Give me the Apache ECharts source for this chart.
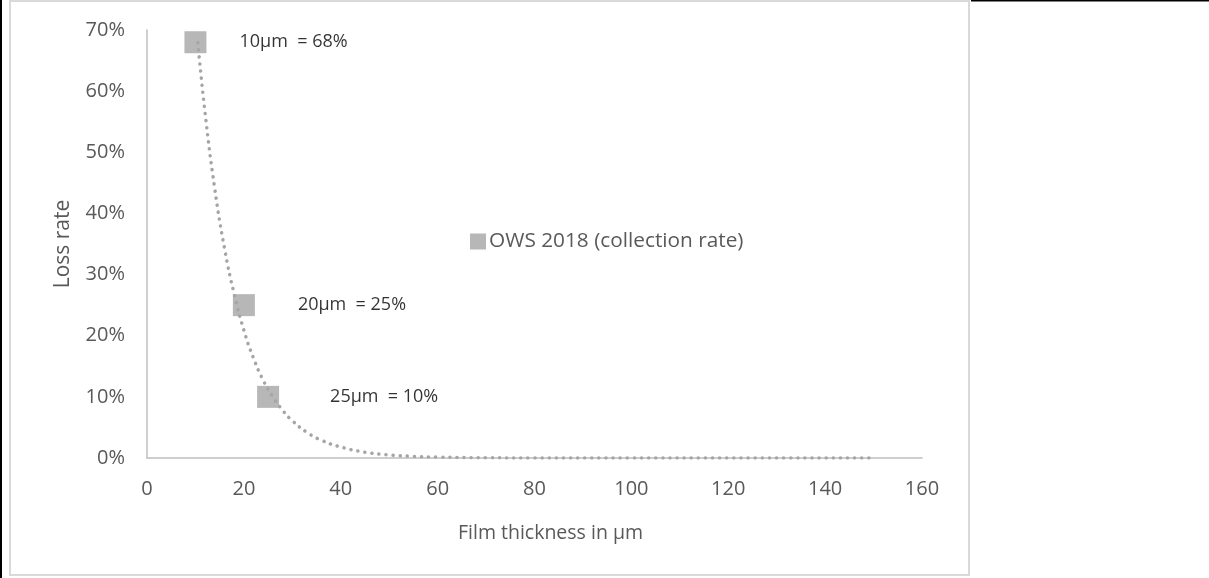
<!DOCTYPE html>
<html>
<head>
<meta charset="utf-8">
<script src="https://cdn.jsdelivr.net/npm/echarts@6/dist/echarts.min.js"></script>
<style>
html,body{margin:0;padding:0;background:#fff;}
#chart{width:1209px;height:578px;}
</style>
</head>
<body>
<div id="chart"></div>
<script>
// Measured points (film thickness in µm, loss rate)
const thickness = [10, 20, 25];
const lossRate = [0.68, 0.25, 0.10];
const pointLabels = ['10µm  = 68%', '20µm  = 25%', '25µm  = 10%'];
const seriesName = 'OWS 2018 (collection rate)';

// Trendline (visible part starts under the first marker)
const trendX = [10.5, 12, 14, 16, 18, 20, 22, 24, 26, 28, 30, 33, 36, 40, 45, 50, 55, 60, 70, 80, 100, 120, 150];
const trendY = [0.679, 0.564, 0.440, 0.343, 0.268, 0.209, 0.163, 0.127, 0.100, 0.078, 0.061, 0.042, 0.029, 0.018, 0.0095, 0.005, 0.0027, 0.0015, 0.0004, 0.0001, 0, 0, 0];

const xTicks = {min: 0, max: 160, interval: 20};
const yTicks = {min: 0, max: 0.7, interval: 0.1};

const labelDistances = [33, 43, 51];

const chart = echarts.init(document.getElementById('chart'), null, {renderer: 'canvas'});
const FONT = '"Open Sans", "Noto Sans", sans-serif';
const GREY = '#a5a5a5';
const TXT = '#595959';

const scatterData = thickness.map((x, i) => ({
  value: [x, lossRate[i]],
  label: {
    show: true,
    position: 'right',
    distance: labelDistances[i],
    formatter: pointLabels[i],
    color: '#000',
    fontFamily: FONT,
    fontSize: 18
  }
}));

const trendData = trendX.map((x, i) => [x, trendY[i]]);

chart.setOption({
  animation: false,
  backgroundColor: '#fff',
  textStyle: {fontFamily: FONT},
  graphic: [
    {type: 'rect', shape: {x: 10, y: 1, width: 959, height: 574}, style: {fill: 'none', stroke: '#d9d9d9', lineWidth: 2}, silent: true},
    {type: 'rect', shape: {x: 0, y: 0, width: 2, height: 578}, style: {fill: '#000'}, silent: true},
    {type: 'rect', shape: {x: 971, y: 0, width: 238, height: 1.5}, style: {fill: '#000'}, silent: true}
  ],
  grid: {left: 147, right: 287, top: 30, bottom: 120, containLabel: false},
  legend: {
    data: [{name: seriesName, icon: 'rect'}],
    left: 465,
    top: 226,
    itemWidth: 16,
    itemHeight: 16,
    itemGap: 4,
    textStyle: {color: TXT, fontSize: 20.8, fontFamily: FONT, padding: [0, 0, 0, -2]}
  },
  xAxis: {
    type: 'value',
    min: xTicks.min, max: xTicks.max, interval: xTicks.interval,
    name: 'Film thickness in µm',
    nameLocation: 'middle',
    nameGap: 65,
    nameTextStyle: {color: TXT, fontSize: 19.5, fontFamily: FONT, padding: [0, 0, 0, 32]},
    axisLine: {show: true, lineStyle: {color: '#bfbfbf', width: 1.5}},
    axisTick: {show: false},
    splitLine: {show: false},
    axisLabel: {color: TXT, fontSize: 20, fontFamily: FONT, margin: 21}
  },
  yAxis: {
    type: 'value',
    min: yTicks.min, max: yTicks.max, interval: yTicks.interval,
    name: 'Loss rate',
    nameLocation: 'middle',
    nameGap: 73,
    nameRotate: 90,
    nameTextStyle: {color: TXT, fontSize: 21, fontFamily: FONT},
    axisLine: {show: true, lineStyle: {color: '#bfbfbf', width: 1.5}},
    axisTick: {show: false},
    splitLine: {show: false},
    axisLabel: {
      color: TXT, fontSize: 20, fontFamily: FONT, margin: 22,
      formatter: v => Math.round(v * 100) + '%'
    }
  },
  series: [
    {
      name: 'trend',
      type: 'line',
      data: trendData,
      smooth: true,
      showSymbol: false,
      symbol: 'none',
      lineStyle: {color: GREY, width: 3.5, type: [0.1, 7], cap: 'round'},
      z: 1,
      silent: true
    },
    {
      name: seriesName,
      type: 'scatter',
      data: scatterData,
      symbol: 'rect',
      symbolSize: 22,
      itemStyle: {color: GREY},
      z: 3
    }
  ]
});
</script>
</body>
</html>
